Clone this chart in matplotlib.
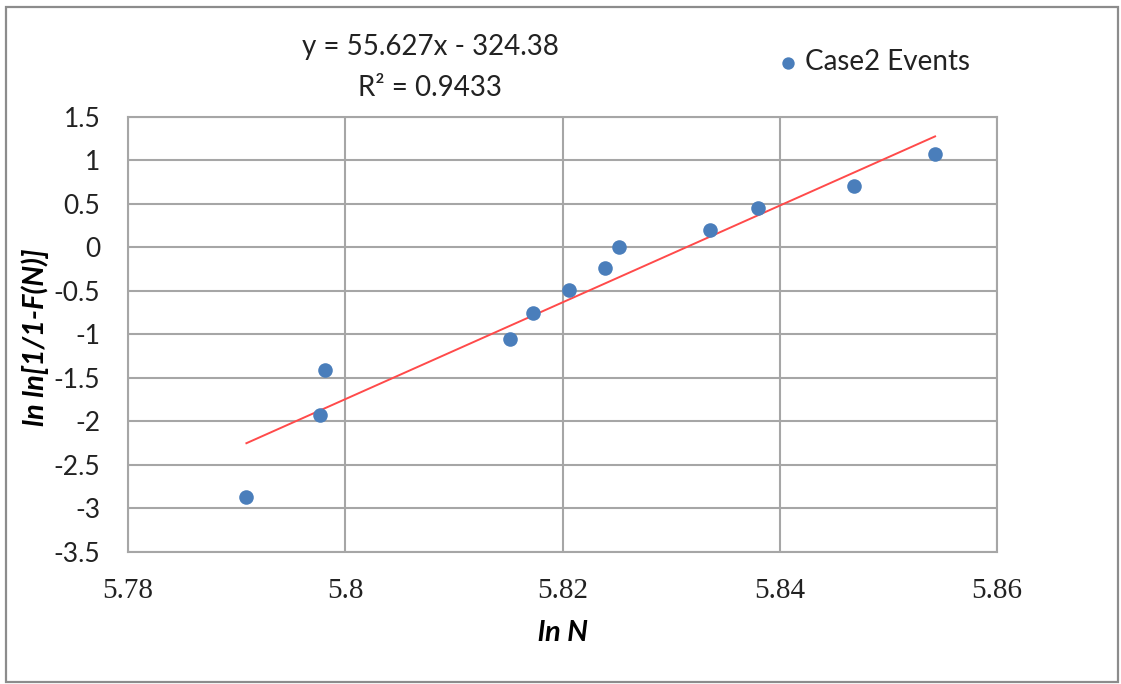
import matplotlib
matplotlib.use("Agg")
import matplotlib.pyplot as plt
from matplotlib.patches import Rectangle
import numpy as np

# Weibull plot data: ln N vs ln ln[1/(1-F(N))]
ln_n = [5.7909, 5.7977, 5.7981, 5.8152, 5.8173, 5.8206,
        5.8239, 5.8252, 5.8336, 5.8380, 5.8468, 5.8543]
ln_ln_f = [-2.87, -1.93, -1.41, -1.05, -0.75, -0.49,
           -0.24, 0.00, 0.20, 0.45, 0.71, 1.08]

slope = 55.627
intercept = -324.38
r_squared = 0.9433

x_ticks = [5.78, 5.80, 5.82, 5.84, 5.86]
x_tick_labels = ["5.78", "5.8", "5.82", "5.84", "5.86"]
y_ticks = [1.5, 1, 0.5, 0, -0.5, -1, -1.5, -2, -2.5, -3, -3.5]
y_tick_labels = ["1.5", "1", "0.5", "0", "-0.5", "-1", "-1.5", "-2", "-2.5", "-3", "-3.5"]

W, H = 1121, 684
fig = plt.figure(figsize=(W / 100, H / 100), dpi=100)
fig.patch.set_facecolor("white")

# Outer chart frame
fig.patches.append(Rectangle((6 / W, 2 / H), 1112 / W, 675 / H,
                             transform=fig.transFigure, fill=False,
                             edgecolor="#8c8c8c", linewidth=1.6))

ax = fig.add_axes([128 / W, 1 - 552 / H, (997 - 128) / W, (552 - 117) / H])

text_color = "#222222"
grid_color = "#a6a6a6"
ax.set_xlim(5.78, 5.86)
ax.set_ylim(-3.5, 1.5)
ax.set_xticks(x_ticks)
ax.set_xticklabels(x_tick_labels, fontfamily="Liberation Serif", fontsize=21,
                   color=text_color)
ax.set_yticks(y_ticks)
ax.set_yticklabels(y_tick_labels, fontfamily="Lato", fontsize=19, color=text_color)
ax.tick_params(axis="both", length=0)
ax.tick_params(axis="y", pad=20)
ax.tick_params(axis="x", pad=19)
ax.grid(True, color=grid_color, linewidth=1.5)
ax.set_axisbelow(True)
for sp in ax.spines.values():
    sp.set_color(grid_color)
    sp.set_linewidth(1.5)

# Data points
ax.scatter(ln_n, ln_ln_f, s=110, color="#4a7ebb", zorder=3, linewidths=0,
           label="Case2 Events")

# Linear trendline from the fitted equation
x_fit = np.array([min(ln_n), max(ln_n)])
ax.plot(x_fit, slope * x_fit + intercept, color="#ff4a4a", linewidth=1.4, zorder=2)

# Trendline equation
fig.text(430 / W, 1 - 47 / H, f"y = {slope}x - {abs(intercept)}", ha="center",
         va="center", fontfamily="Lato", fontsize=20, color=text_color)
fig.text(430 / W, 1 - 88 / H, f"R² = {r_squared}", ha="center", va="center",
         fontfamily="Lato", fontsize=20, color=text_color)

# Legend
leg = ax.legend(loc="center left", bbox_to_anchor=(759 / W, 1 - 62 / H),
                bbox_transform=fig.transFigure, frameon=False,
                prop={"family": "Lato", "size": 20}, handletextpad=0.05,
                markerscale=0.85, borderpad=0, handlelength=1.1)
for t in leg.get_texts():
    t.set_color(text_color)

ax.set_xlabel("ln N", fontfamily="Lato", fontweight="bold",
              fontstyle="italic", fontsize=21, va="center", ha="center")
ax.xaxis.set_label_coords(0.5, (552 - 633) / 435)
ax.set_ylabel("ln ln[1/1-F(N)]", fontfamily="Lato", fontweight="bold",
              fontstyle="italic", fontsize=21, va="center", ha="center")
ax.yaxis.set_label_coords((35 - 128) / 869, (552 - 337) / 435)

fig.savefig("out.png", dpi=100)
